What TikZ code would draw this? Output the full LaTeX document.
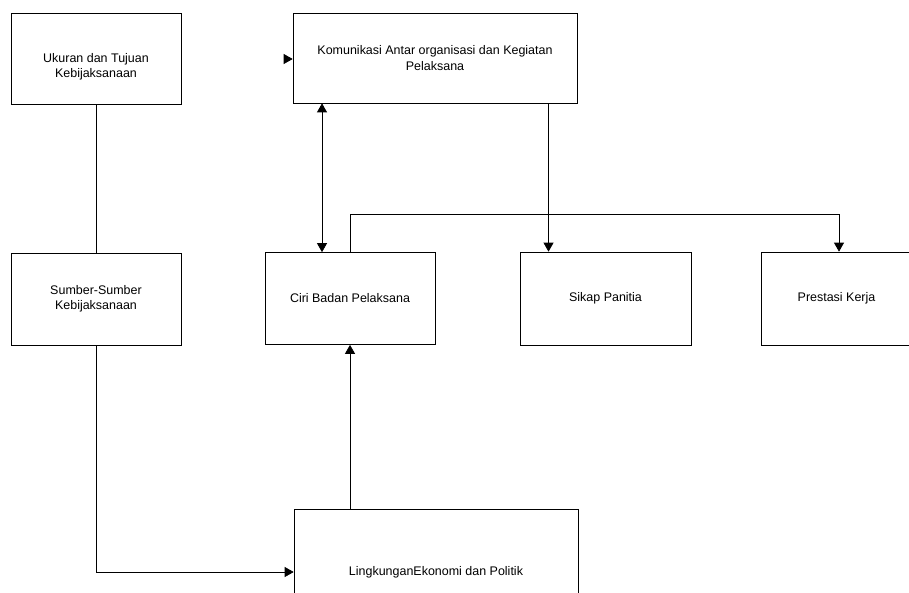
\documentclass[tikz,border=0pt]{standalone}
\usepackage{fontspec}
\setmainfont{Liberation Sans}
\usetikzlibrary{arrows.meta}

\begin{document}
\begin{tikzpicture}[x=0.02cm, y=-0.02cm, >={Triangle[length=0.18cm, width=0.2cm]},
        box/.style={draw, line width=0.4pt, inner sep=0pt, align=center, minimum width=3.4cm, minimum height=1.84cm, font=\fontsize{7.1}{8.6}\selectfont},
        link/.style={line width=0.4pt}]
        \clip (0, 0) rectangle (909, 592);
        \node[box, minimum height=1.82cm] at (96, 58.5) (ukuran) {\mbox{}\\[5.5pt]Ukuran dan Tujuan\\Kebijaksanaan};
        \node[box, minimum width=5.68cm, minimum height=1.8cm] at (435, 58) (komunikasi) {Komunikasi Antar organisasi dan Kegiatan\\Pelaksana};
        \node[box] at (96, 299) (sumber) {Sumber-Sumber\\Kebijaksanaan};
        \node[box] at (350, 298.5) (ciri) {Ciri Badan Pelaksana};
        \node[box, minimum width=3.42cm, minimum height=1.86cm] at (605.5, 298.5) (sikap) {Sikap Panitia};
        \node[box, minimum width=3.02cm, minimum height=1.86cm] at (836.5, 298.5) (prestasi) {Prestasi Kerja};
        \node[box, minimum width=5.68cm, minimum height=2.52cm] at (436, 572) (lingkungan) {LingkunganEkonomi dan Politik};
        \coordinate (masuk) at (285, 59);
        \draw[link] (ukuran) -- (sumber);
        \draw[link, ->] (masuk) -- (masuk -| komunikasi.west);
        \draw[link, <->] ([xshift=-0.56cm]ciri.north |- komunikasi.south) -- ([xshift=-0.56cm]ciri.north);
        \draw[link, ->] ([xshift=-1.14cm]sikap.north |- komunikasi.south) -- ([xshift=-1.14cm]sikap.north);
        \draw[link, ->] (ciri.north) -- ++(0, -38) -| ([xshift=0.05cm]prestasi.north);
        \draw[link, ->] (sumber.south) |- (lingkungan.west);
        \draw[link, ->] (lingkungan.north -| ciri.south) -- (ciri.south);
    \end{tikzpicture}
\end{document}
